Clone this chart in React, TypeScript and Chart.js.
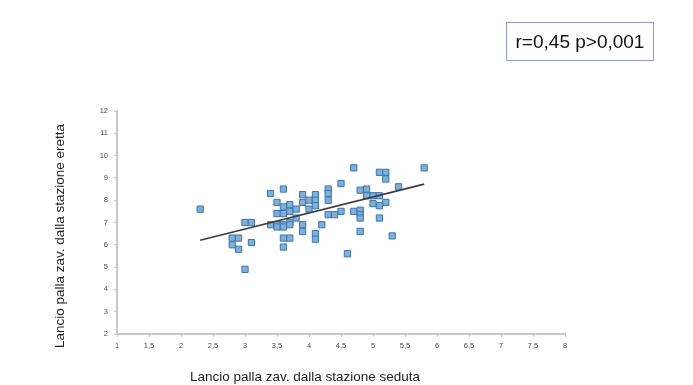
import React, { useEffect, useRef } from "react";
import { Chart, registerables } from "chart.js";

Chart.register(...registerables);

const seated: number[] = [
  2.3, 2.8, 2.9, 2.8, 2.9, 3.0, 3.1, 3.1, 3.0, 3.4,
  3.6, 3.5, 3.5, 3.6, 3.6, 3.7, 3.7, 3.4, 3.5, 3.6,
  3.5, 3.6, 3.7, 3.7, 3.6, 3.7, 3.6, 3.9, 3.9, 4.0,
  4.1, 4.1, 4.0, 3.9, 3.9, 4.1, 4.1, 3.8, 4.7, 5.1,
  5.2, 5.2, 5.8, 5.4, 4.5, 4.3, 4.3, 4.3, 4.1, 4.8,
  4.9, 4.9, 5.0, 5.1, 5.2, 5.0, 5.1, 4.7, 4.8, 4.8,
  4.8, 5.1, 4.5, 4.4, 4.3, 4.2, 4.8, 5.3, 4.6, 3.8,
];
const standing: number[] = [
  7.6, 6.3, 6.3, 6.0, 5.8, 7.0, 7.0, 6.1, 4.9, 8.3,
  8.5, 7.9, 7.4, 7.4, 7.7, 7.8, 7.5, 6.9, 6.9, 6.9,
  6.8, 6.8, 7.0, 6.9, 6.3, 6.3, 5.9, 8.25, 7.9, 8.0,
  8.25, 8.0, 7.6, 6.9, 6.6, 6.5, 6.25, 7.2, 9.45, 9.25,
  9.25, 8.95, 9.45, 8.6, 8.75, 8.5, 8.3, 8.0, 7.75, 8.45,
  8.5, 8.2, 8.2, 8.2, 7.9, 7.85, 7.75, 7.5, 7.55, 7.35,
  7.2, 7.2, 7.5, 7.35, 7.35, 6.9, 6.6, 6.4, 5.6, 7.6,
];
const trendX: number[] = [2.3, 5.8];
const trendY: number[] = [6.2, 8.72];

const xTitle = "Lancio palla zav. dalla stazione seduta";
const yTitle = "Lancio palla zav. dalla stazione eretta";
const statText = "r=0,45 p>0,001";

const FONT = '"Liberation Sans", "DejaVu Sans", sans-serif';

export default function App() {
  const ref = useRef<HTMLCanvasElement | null>(null);

  useEffect(() => {
    if (!ref.current) return;
    const titles = {
      id: "titles",
      afterDraw(chart: any) {
        const ctx = chart.ctx;
        const a = chart.chartArea;
        ctx.save();
        ctx.fillStyle = "#1e1e1e";
        ctx.font = `13.5px ${FONT}`;
        ctx.textAlign = "center";
        ctx.textBaseline = "middle";
        ctx.fillText(xTitle, a.left + 188, a.bottom + 43);
        ctx.translate(a.left - 57, a.top + 125);
        ctx.rotate(-Math.PI / 2);
        ctx.fillText(yTitle, 0, 0);
        ctx.restore();
      },
    };
    const chart = new Chart(ref.current, {
      type: "scatter",
      data: {
        datasets: [
          {
            type: "line",
            data: trendX.map((x, i) => ({ x, y: trendY[i] })),
            borderColor: "#3c3c3c",
            borderWidth: 1.6,
            pointRadius: 0,
            showLine: true,
            order: 0,
          } as any,
          {
            data: seated.map((x, i) => ({ x, y: standing[i] })),
            pointStyle: "rect",
            pointRadius: 4.4,
            backgroundColor: "#7fb0d9",
            borderColor: "#3d74aa",
            borderWidth: 1,
            order: 1,
          },
        ],
      },
      options: {
        responsive: true,
        maintainAspectRatio: false,
        animation: false,
        layout: { padding: { left: 0, top: 111, right: 128, bottom: 0 } },
        plugins: { legend: { display: false }, tooltip: { enabled: false } },
        scales: {
          x: {
            type: "linear",
            min: 1,
            max: 8,
            afterFit(scale: any) {
              scale.height = 51;
            },
            ticks: {
              stepSize: 0.5,
              color: "#4a4a4a",
              font: { size: 7.5, family: FONT },
              padding: 4,
              callback: (v: any) => String(v).replace(".", ","),
            },
            grid: {
              drawOnChartArea: false,
              drawTicks: true,
              tickLength: 3,
              color: "#c8c8c8",
            },
            border: { color: "#c8c8c8", width: 2 },
          },
          y: {
            type: "linear",
            min: 2,
            max: 12,
            afterFit(scale: any) {
              scale.width = 117;
            },
            ticks: {
              stepSize: 1,
              color: "#4a4a4a",
              font: { size: 7.5, family: FONT },
              padding: 6,
            },
            grid: {
              drawOnChartArea: false,
              drawTicks: true,
              tickLength: 3,
              color: "#c8c8c8",
            },
            border: { color: "#c8c8c8", width: 2 },
          },
        },
      },
      plugins: [titles],
    });
    return () => chart.destroy();
  }, []);

  return (
    <div style={{ position: "fixed", left: 0, top: 0, width: 693, height: 385, background: "#fff" }}>
      <canvas ref={ref} />
      <div
        style={{
          position: "absolute",
          left: 506,
          top: 22,
          width: 148,
          height: 39,
          border: "1px solid #8d9bd0",
          boxSizing: "border-box",
          display: "flex",
          alignItems: "center",
          justifyContent: "center",
          fontFamily: FONT,
          fontSize: 19,
          color: "#111",
          whiteSpace: "nowrap",
        }}
      >
        {statText}
      </div>
    </div>
  );
}
